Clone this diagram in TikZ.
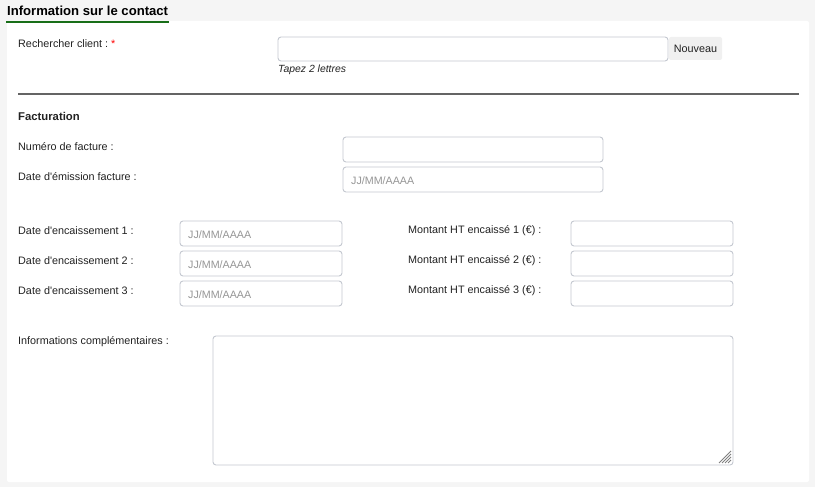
\documentclass[tikz,border=0pt]{standalone}
\usepackage{fontspec}
\setmainfont{Liberation Sans}[Ligatures=TeXOff]
\definecolor{bgc}{RGB}{245,245,245}
\definecolor{titlegreen}{RGB}{24,110,24}
\definecolor{inbord}{RGB}{196,200,208}
\definecolor{phgray}{RGB}{150,150,150}
\definecolor{txt}{RGB}{34,34,34}
\definecolor{hrgray}{RGB}{100,100,100}
\definecolor{btnfill}{RGB}{240,240,240}
\begin{document}
\begin{tikzpicture}[x=1pt,y=-1pt,
  lbl/.style={anchor=west,inner sep=0pt,font=\fontsize{10.8}{13}\selectfont,text=txt},
  ph/.style={anchor=west,inner sep=0pt,font=\fontsize{10.7}{13}\selectfont,text=phgray},
  inbox/.style={draw=inbord,fill=white,rounded corners=3pt,line width=0.9pt},
  hdr/.style={anchor=west,inner sep=0pt,font=\fontsize{11.3}{13}\selectfont\bfseries,text=txt}]
\useasboundingbox (0,0) rectangle (815,487);
\fill[bgc] (0,0) rectangle (815,487);
\fill[white,rounded corners=2pt] (7,21) rectangle (809,482);
% title
\node[anchor=base west,inner sep=0pt,font=\fontsize{13.1}{15}\selectfont\bfseries,text=black] (title) at (7,16) {Information sur le contact};
\draw[titlegreen,line width=2pt] (6,22) -- (169,22);
% search
\node[lbl] (lsearch) at (18,43.5) {Rechercher client :~\textcolor{red}{*}};
\draw[inbox] (278,37) rectangle (668,61);
\fill[btnfill,rounded corners=2pt] (669,37) rectangle (722,60);
\node[inner sep=0pt,font=\fontsize{10.8}{13}\selectfont,text=txt] (bnew) at (695.5,48.5) {Nouveau};
\node[anchor=west,inner sep=0pt,font=\fontsize{10.4}{12}\selectfont\itshape,text=txt] (hint) at (278,69.5) {Tapez 2 lettres};
\draw[hrgray,line width=1.6pt] (18,94) -- (799,94);
\node[hdr] (fact) at (18,116.5) {Facturation};
% numero
\node[lbl] (lnum) at (18,147) {Numéro de facture :};
\draw[inbox] (343,137) rectangle (603,162);
\node[lbl] (lemis) at (18,177) {Date d'émission facture :};
\draw[inbox] (343,167) rectangle (603,192);
\node[ph] (pemis) at (351,180.5) {JJ/MM/AAAA};
% dates
\foreach \i/\y in {1/221,2/251,3/281}{
  \node[lbl] (ld\i) at (18,\y+10) {Date d'encaissement \i\ :};
  \draw[inbox] (180,\y) rectangle (342,\y+25);
  \node[ph] (pd\i) at (188,\y+13.5) {JJ/MM/AAAA};
  \node[lbl] (lm\i) at (408,\y+10) {Montant HT encaissé \i\ (€) :};
  \draw[inbox] (571,\y) rectangle (733,\y+25);
}
% infos
\node[lbl] (linfo) at (18,342) {Informations complémentaires :};
\draw[inbox] (213,336) rectangle (733,465);
\foreach \d in {3,6,9,12}{
  \draw[gray,line width=0.8pt] (731-\d,463) -- (731,463-\d);
}
\end{tikzpicture}
\end{document}
